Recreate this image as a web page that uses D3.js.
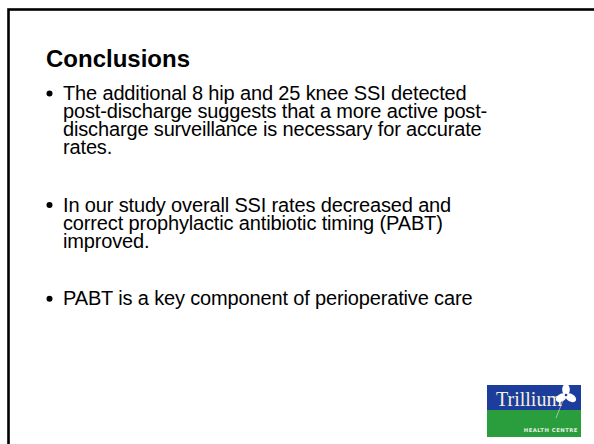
<!DOCTYPE html>
<html>
<head>
<meta charset="utf-8">
<script src="https://cdn.jsdelivr.net/npm/d3@7"></script>
<style>
  body { margin: 0; background: #fff; }
  svg { display: block; }
</style>
</head>
<body>
<div id="slide"></div>
<script>
// slide content
var title = "Conclusions";
var bullets = [
    ["The additional 8 hip and 25 knee SSI detected",
     "post-discharge suggests that a more active post-",
     "discharge surveillance is necessary for accurate",
     "rates."],
    ["In our study overall SSI rates decreased and",
     "correct prophylactic antibiotic timing (PABT)",
     "improved."],
    ["PABT is a key component of perioperative care"]
];
var logoName = "Trillium";
var logoSub = "HEALTH CENTRE";

var svgWidth = 594;
var svgHeight = 444;

var svg = d3.select("#slide")
    .append("svg")
    .attr("width", svgWidth)
    .attr("height", svgHeight);

// slide frame (right and bottom edges fall outside the picture)
svg.append("rect")
    .attr("x", 8.5)
    .attr("y", 9.5)
    .attr("width", 700)
    .attr("height", 500)
    .attr("fill", "none")
    .attr("stroke", "#000")
    .attr("stroke-width", 2.6);

svg.append("text")
    .attr("x", 46)
    .attr("y", 67)
    .style("font-family", "'Liberation Sans', Arial, sans-serif")
    .style("font-weight", "bold")
    .style("font-size", "24px")
    .attr("fill", "#000")
    .text(title);

// flatten bullets into rows, with an empty paragraph between bullets
var rows = [];
var r = 0;
bullets.forEach(function(lines, bi) {
    lines.forEach(function(line, li) {
        rows.push({ row: r, text: line, first: li === 0 });
        r += 1;
    });
    r += 2.2;
});

var yRow = d3.scaleLinear().domain([0, 1]).range([100, 118]);

var body = svg.append("g")
    .style("font-family", "'Liberation Sans', Arial, sans-serif")
    .style("font-size", "20px")
    .style("letter-spacing", "-0.15px")
    .attr("fill", "#000");

body.selectAll("text.line")
    .data(rows)
    .enter()
    .append("text")
    .attr("class", "line")
    .attr("x", 63)
    .attr("y", function(d) { return yRow(d.row); })
    .text(function(d) { return d.text; });

body.selectAll("circle.dot")
    .data(rows.filter(function(d) { return d.first; }))
    .enter()
    .append("circle")
    .attr("class", "dot")
    .attr("cx", 49.5)
    .attr("cy", function(d) { return yRow(d.row) - 6.5; })
    .attr("r", 3);

// logo
var logo = svg.append("g").attr("transform", "translate(487,385)");
logo.append("rect").attr("width", 94).attr("height", 25).attr("fill", "#1c3d9b");
logo.append("rect").attr("y", 25).attr("width", 94).attr("height", 27).attr("fill", "#2a9d3d");

logo.append("text")
    .attr("x", 9)
    .attr("y", 21)
    .style("font-family", "'Liberation Serif', 'DejaVu Serif', serif")
    .style("font-size", "20px")
    .attr("fill", "#f3f0dc")
    .text(logoName);

// trillium flower: three petals
var petals = [-90, 30, 150];
var flower = logo.append("g").attr("transform", "translate(79,10)");
flower.selectAll("ellipse")
    .data(petals)
    .enter()
    .append("ellipse")
    .attr("cx", 0)
    .attr("cy", -5.5)
    .attr("rx", 3.8)
    .attr("ry", 5.8)
    .attr("transform", function(d) { return "rotate(" + (d + 90) + ")"; })
    .attr("fill", "#fff");
flower.append("circle").attr("r", 1.3).attr("fill", "#1c3d9b");
logo.append("line")
    .attr("x1", 77).attr("y1", 13)
    .attr("x2", 69).attr("y2", 33)
    .attr("stroke", "#e8ecd8")
    .attr("stroke-width", 0.6);

logo.append("text")
    .attr("x", 91)
    .attr("y", 47)
    .attr("text-anchor", "end")
    .style("font-family", "'DejaVu Sans', sans-serif")
    .style("font-weight", "bold")
    .style("font-size", "5.3px")
    .style("letter-spacing", "0.5px")
    .attr("fill", "#e6f2e2")
    .text(logoSub);
</script>
</body>
</html>
